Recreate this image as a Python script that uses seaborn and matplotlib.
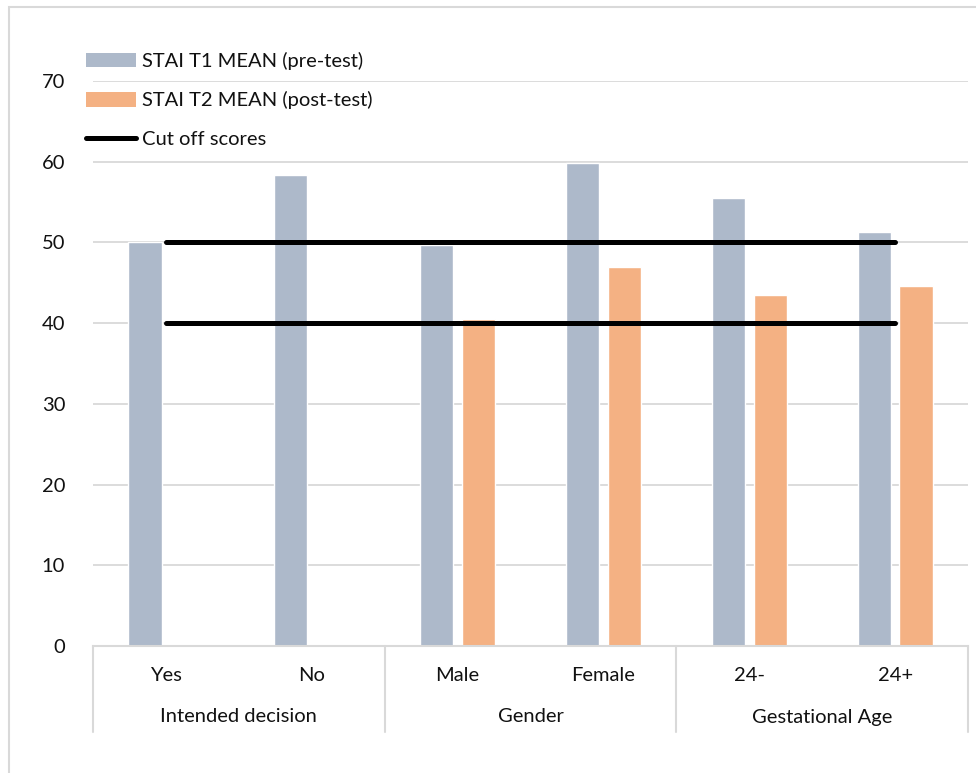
import numpy as np
import pandas as pd
import matplotlib
matplotlib.use("Agg")
import matplotlib.pyplot as plt
from matplotlib.patches import Patch, Rectangle
from matplotlib.lines import Line2D
from matplotlib.transforms import blended_transform_factory
import seaborn as sns

# ---- data ----
categories = ["Yes", "No", "Male", "Female", "24-", "24+"]
groups = ["Intended decision", "Gender", "Gestational Age"]
group_sizes = [2, 2, 2]
t1_mean = [50.0, 58.4, 49.7, 59.8, 55.5, 51.3]
t2_mean = [np.nan, np.nan, 40.5, 46.9, 43.5, 44.6]
series_names = ["STAI T1 MEAN (pre-test)", "STAI T2 MEAN (post-test)"]
cutoff_upper = [50] * len(categories)
cutoff_lower = [40] * len(categories)
yticks = [0, 10, 20, 30, 40, 50, 60, 70]

c_t1 = "#ADB9CA"
c_t2 = "#F4B183"
grid_c = "#D9D9D9"
txt_c = "#111111"

sns.set_theme(style="white")
plt.rcParams["font.family"] = ["Lato", "DejaVu Sans"]
FS = 14.5

df = pd.DataFrame({
    "category": categories * 2,
    "series": [series_names[0]] * len(categories) + [series_names[1]] * len(categories),
    "value": t1_mean + t2_mean,
})

fig = plt.figure(figsize=(9.76, 7.73), dpi=100)
ax = fig.add_axes([93 / 976, 1 - 646 / 773, (968 - 93) / 976, (646 - 81) / 773])

sns.barplot(data=df, x="category", y="value", hue="series", order=categories,
            hue_order=series_names, palette=[c_t1, c_t2], width=0.574, gap=0.21,
            saturation=1, errorbar=None, legend=False, ax=ax)

for level in (cutoff_upper, cutoff_lower):
    sns.pointplot(x=categories, y=level, order=categories, color="black",
                  markers="", errorbar=None, lw=3.6, ax=ax)
for ln in ax.lines:
    ln.set_solid_capstyle("round")
    ln.set_zorder(3)

ax.set_xlim(-0.5, len(categories) - 0.5)
ax.set_ylim(0, 70)
ax.set_yticks(yticks)
ax.set_yticklabels([str(t) for t in yticks], fontsize=FS, color=txt_c)
ax.yaxis.grid(True, color=grid_c, lw=1.3)
ax.set_axisbelow(True)
ax.tick_params(axis="y", length=0, pad=20)
ax.tick_params(axis="x", length=0, pad=15, labelsize=FS, labelcolor=txt_c)
ax.set_xlabel("")
ax.set_ylabel("")
for side in ("left", "right", "top"):
    ax.spines[side].set_visible(False)
ax.spines["bottom"].set_color(grid_c)
ax.spines["bottom"].set_linewidth(1.5)

# grouped category axis: separators and group names
trans = blended_transform_factory(ax.transData, ax.transAxes)
sep_depth = -(732 - 646) / (646 - 81)
group_y = -(717 - 646) / (646 - 81)
start = 0
bounds = [-0.5]
for name, n in zip(groups, group_sizes):
    ax.text(start + (n - 1) / 2, group_y, name, transform=trans, ha="center",
            va="center", fontsize=FS, color=txt_c)
    start += n
    bounds.append(start - 0.5)
for b in bounds:
    ax.add_line(Line2D([b, b], [0, sep_depth], transform=trans, color=grid_c,
                       lw=1.5, clip_on=False))

handles = [
    Patch(facecolor=c_t1, edgecolor="none", label=series_names[0]),
    Patch(facecolor=c_t2, edgecolor="none", label=series_names[1]),
    Line2D([], [], color="black", lw=3.6, solid_capstyle="round", label="Cut off scores"),
]
fig.legend(handles=handles, loc="upper left", bbox_to_anchor=(86 / 976, 1 - 52 / 773),
           frameon=False, fontsize=FS, handlelength=2.5, handleheight=0.75,
           handletextpad=0.3, labelspacing=1.05, borderpad=0, borderaxespad=0,
           labelcolor=txt_c)

# light outer frame of the chart area
fig.patches.append(Rectangle((9 / 976, -0.1), 1.2, 1.1 - 7 / 773, fill=False,
                             edgecolor=grid_c, lw=1.5, transform=fig.transFigure))

fig.savefig("out.png", dpi=100)
